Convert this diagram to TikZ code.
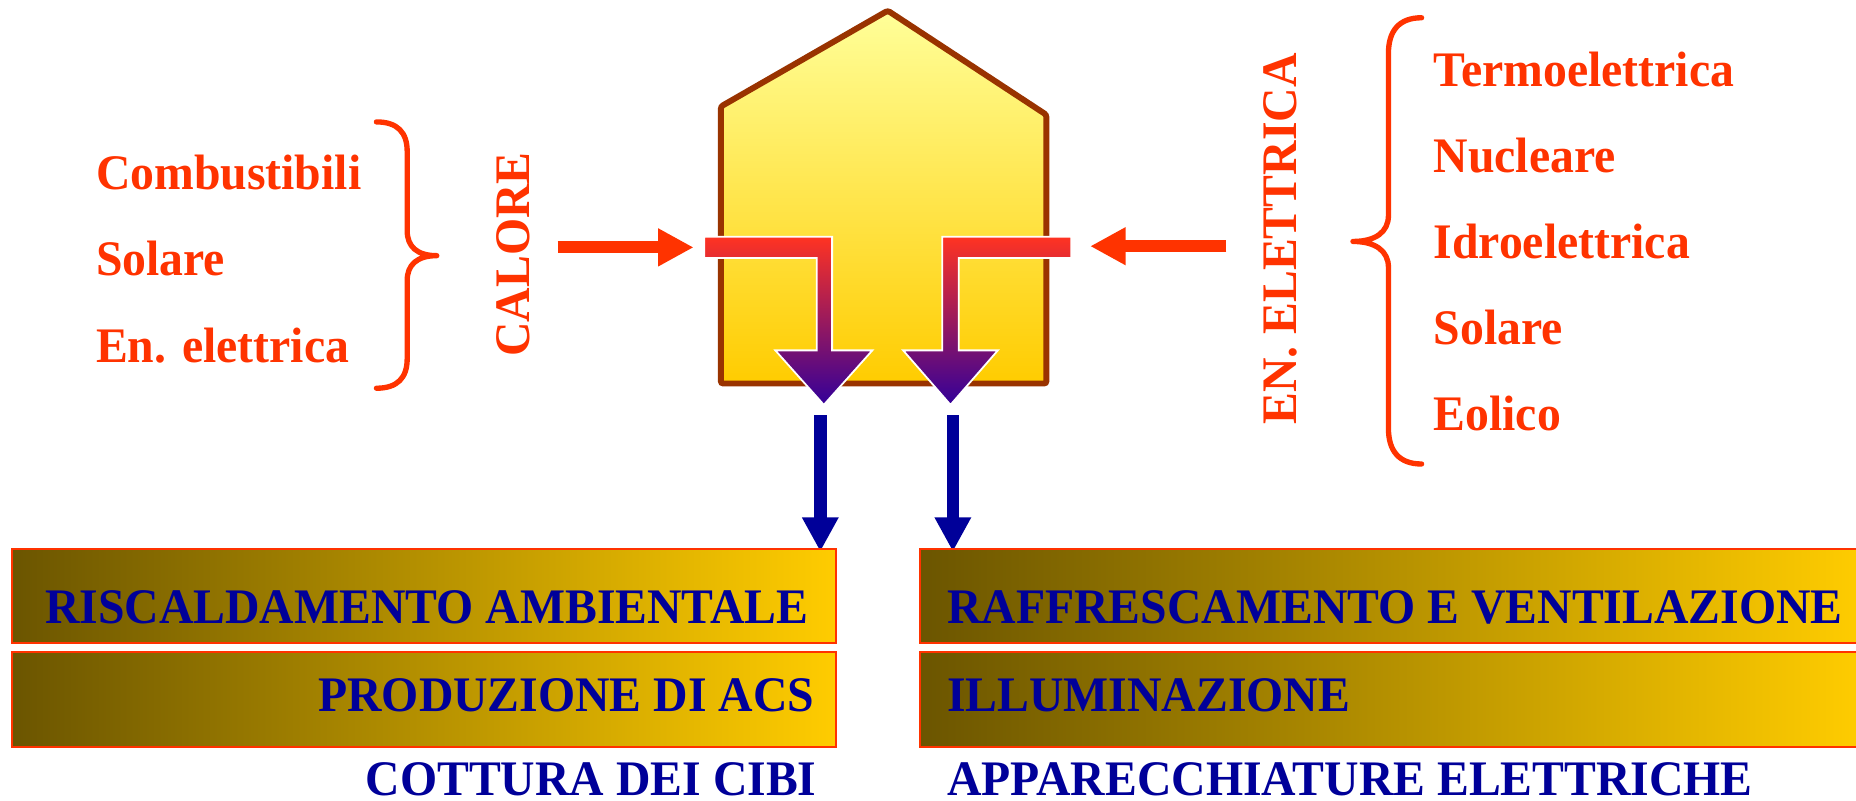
\documentclass[tikz,border=0pt]{standalone}
\usepackage{fontspec}
\setmainfont{Liberation Serif}
\usetikzlibrary{arrows.meta}
\definecolor{cred}{HTML}{FF3300}
\definecolor{cblue}{HTML}{000099}
\definecolor{cbrown}{HTML}{993300}
\definecolor{olive}{HTML}{6B5500}
\definecolor{gold}{HTML}{FFCC00}
\definecolor{pale}{HTML}{FFFF99}
\definecolor{tred}{HTML}{FF3322}
\definecolor{tviolet}{HTML}{330099}
\newcommand\sq[1]{\scalebox{0.96}[1]{#1}}
\tikzset{
  txt/.style={font=\fontsize{42}{50}\selectfont\bfseries, inner sep=0pt},
  redtxt/.style={txt, text=cred},
  bluetxt/.style={txt, text=cblue},
  bracestyle/.style={draw=cred, line width=4.5pt, line cap=round, line join=round},
  bar/.style={draw=cred, line width=1.5pt, left color=olive, right color=gold},
  tarrow/.style={draw=white, line width=1.5pt, top color=tred, bottom color=tviolet},
  redarrow/.style={draw=cred, line width=10pt, -{Triangle[length=30pt,width=30pt]}},
  bluearrow/.style={draw=cblue, line width=10.5pt, -{Triangle[length=29pt,width=29pt]}}
}
\begin{document}
\begin{tikzpicture}[x=1pt,y=-1pt]
\useasboundingbox (0,0) rectangle (1568,676);
\fill[white] (0,0) rectangle (1568,676);

% house
\draw[draw=cbrown, line width=5pt, rounded corners=2pt, top color=pale, bottom color=gold]
  (609,324) -- (609,90) -- (750,9) -- (884,97) -- (884,324) -- cycle;

% T arrows inside house
\path[tarrow] (595,200) -- (703,200) -- (703,296) -- (737,296) -- (696,342) -- (655,296)
  -- (690,296) -- (690,218) -- (595,218) -- cycle;
\path[tarrow] (905,200) -- (796,200) -- (796,296) -- (763,296) -- (803,342) -- (843,296)
  -- (810,296) -- (810,218) -- (905,218) -- cycle;

% red input arrows
\coordinate (la1) at (471,209);
\coordinate (la2) at (586,209);
\coordinate (ra1) at (1036,208);
\coordinate (ra2) at (921,208);
\draw[redarrow] (la1) -- (la2);
\draw[redarrow] (ra1) -- (ra2);

% blue output arrows
\coordinate (lb1) at (693,351);
\coordinate (lb2) at (693,466);
\coordinate (rb1) at (805,351);
\coordinate (rb2) at (805,466);
\draw[bluearrow] (lb1) -- (lb2);
\draw[bluearrow] (rb1) -- (rb2);

% braces
\draw[bracestyle] (318,103) .. controls (336,103) and (344,112) .. (344,128)
  -- (344,195) .. controls (344,208) and (352,216) .. (369,216)
  .. controls (352,216) and (344,224) .. (344,237)
  -- (344,303) .. controls (344,319) and (336,328) .. (318,328);
\draw[bracestyle] (1201,15) .. controls (1182,15) and (1173,26) .. (1173,45)
  -- (1173,182) .. controls (1173,196) and (1162,204) .. (1143,204)
  .. controls (1162,204) and (1173,212) .. (1173,226)
  -- (1173,362) .. controls (1173,381) and (1182,392) .. (1201,392);

% left texts
\node[redtxt, anchor=base west] (c1) at (81,160) {\sq{Combustibili}};
\node[redtxt, anchor=base west] (c2) at (81,233) {\sq{Solare}};
\node[redtxt, anchor=base west] (c3) at (81,306) {\sq{En. elettrica}};
\node[redtxt, rotate=90] (calore) at (434,215) {\sq{CALORE}};

% right texts
\node[redtxt, rotate=90] (enel) at (1082,202) {\sq{EN. ELETTRICA}};
\node[redtxt, anchor=base west] (e1) at (1211,73) {\sq{Termoelettrica}};
\node[redtxt, anchor=base west] (e2) at (1211,146) {\sq{Nucleare}};
\node[redtxt, anchor=base west] (e3) at (1211,218) {\sq{Idroelettrica}};
\node[redtxt, anchor=base west] (e4) at (1211,291) {\sq{Solare}};
\node[redtxt, anchor=base west] (e5) at (1211,364) {\sq{Eolico}};

% bars
\path[bar] (10,464) rectangle (706,543);
\path[bar] (10,551) rectangle (706,631);
\path[bar] (777,464) rectangle (1572,543);
\path[bar] (777,551) rectangle (1572,631);

\node[bluetxt, anchor=base west] (b1) at (38,527) {\sq{RISCALDAMENTO AMBIENTALE}};
\node[bluetxt, anchor=base east] (b2) at (688,601) {\sq{PRODUZIONE DI ACS}};
\node[bluetxt, anchor=base west] (b3) at (800,527) {\sq{RAFFRESCAMENTO E VENTILAZIONE}};
\node[bluetxt, anchor=base west] (b4) at (800,601) {\sq{ILLUMINAZIONE}};
\node[bluetxt, anchor=base east] (b5) at (690,672) {\sq{COTTURA DEI CIBI}};
\node[bluetxt, anchor=base west] (b6) at (800,672) {\sq{APPARECCHIATURE ELETTRICHE}};
\end{tikzpicture}
\end{document}
